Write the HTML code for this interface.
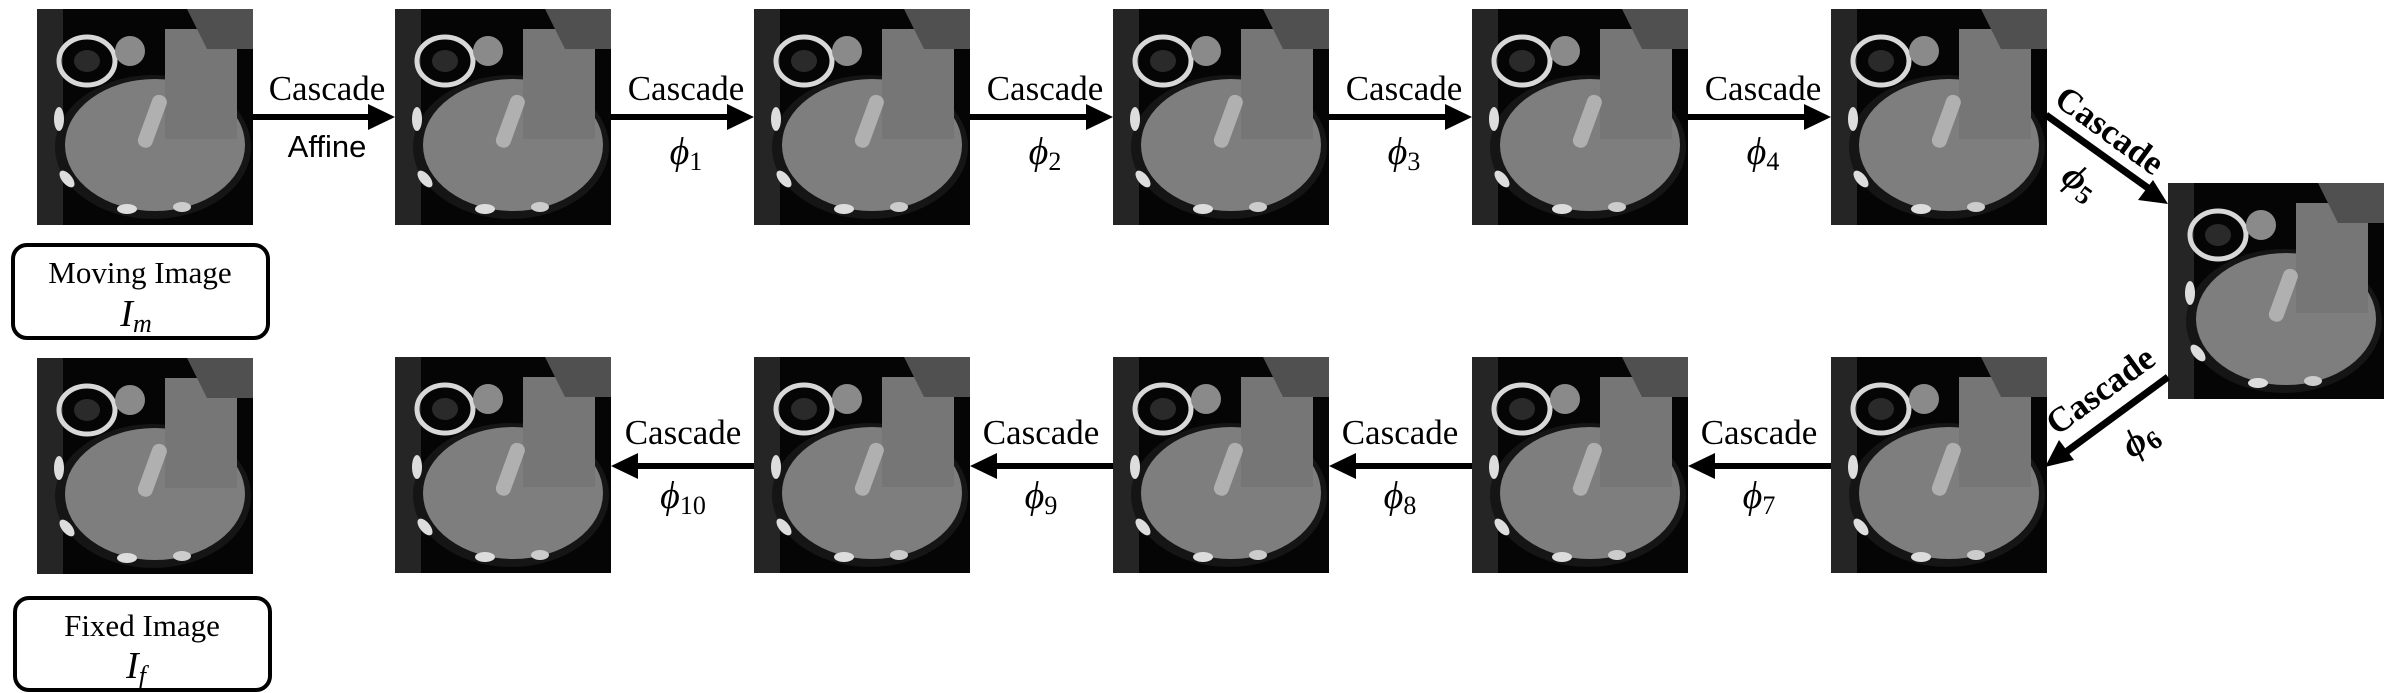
<!DOCTYPE html>
<html><head><meta charset="utf-8"><style>
html,body{margin:0;padding:0;background:#fff;}
svg{display:block;}
.cs{font-family:"Liberation Serif",serif;font-size:35px;fill:#000;}
.ph{font-family:"Liberation Serif",serif;font-style:italic;font-size:38px;fill:#000;}
.sub{font-family:"Liberation Serif",serif;font-style:normal;font-size:26px;}
.isub{font-family:"Liberation Serif",serif;font-style:italic;font-size:26px;}
.af{font-family:"Liberation Sans",sans-serif;font-size:31px;fill:#000;}
.bx{font-family:"Liberation Serif",serif;font-size:31px;fill:#000;}
</style></head><body>
<svg width="2401" height="693" viewBox="0 0 2401 693">
<defs>
<g id="ct">
<rect x="0" y="0" width="216" height="216" fill="#050505"/>
<rect x="0" y="0" width="26" height="216" fill="#252525"/>
<ellipse cx="116" cy="138" rx="98" ry="72" fill="#151515"/>
<ellipse cx="118" cy="136" rx="90" ry="66" fill="#7e7e7e"/>
<rect x="128" y="20" width="72" height="110" fill="#767676"/>
<path d="M150 0 L216 0 L216 40 L170 40 Z" fill="#505050"/>
<ellipse cx="50" cy="52" rx="28" ry="24" fill="none" stroke="#d8d8d8" stroke-width="5"/>
<ellipse cx="50" cy="52" rx="13" ry="11" fill="#2a2a2a"/>
<circle cx="93" cy="42" r="15" fill="#8a8a8a"/>
<rect x="108" y="85" width="15" height="55" rx="7" fill="#b0b0b0" transform="rotate(20 116 112)"/>
<ellipse cx="22" cy="110" rx="5" ry="12" fill="#ddd"/>
<ellipse cx="30" cy="170" rx="5" ry="10" fill="#ddd" transform="rotate(-40 30 170)"/>
<ellipse cx="90" cy="200" rx="10" ry="5" fill="#ddd"/>
<ellipse cx="145" cy="198" rx="9" ry="5" fill="#ccc"/>
</g>
</defs>

<use href="#ct" x="37" y="9"/>
<use href="#ct" x="395" y="9"/>
<use href="#ct" x="754" y="9"/>
<use href="#ct" x="1113" y="9"/>
<use href="#ct" x="1472" y="9"/>
<use href="#ct" x="1831" y="9"/>
<use href="#ct" x="2168" y="183"/>
<use href="#ct" x="1831" y="357"/>
<use href="#ct" x="1472" y="357"/>
<use href="#ct" x="1113" y="357"/>
<use href="#ct" x="754" y="357"/>
<use href="#ct" x="395" y="357"/>
<use href="#ct" x="37" y="358"/>

<g fill="#000" stroke="#000">
<line x1="253" y1="117" x2="370" y2="117" stroke-width="6"/><polygon points="368,104 395,117 368,130" stroke="none"/>
<line x1="611" y1="117" x2="729" y2="117" stroke-width="6"/><polygon points="727,104 754,117 727,130" stroke="none"/>
<line x1="970" y1="117" x2="1088" y2="117" stroke-width="6"/><polygon points="1086,104 1113,117 1086,130" stroke="none"/>
<line x1="1329" y1="117" x2="1447" y2="117" stroke-width="6"/><polygon points="1445,104 1472,117 1445,130" stroke="none"/>
<line x1="1688" y1="117" x2="1806" y2="117" stroke-width="6"/><polygon points="1804,104 1831,117 1804,130" stroke="none"/>
</g>
<g fill="#000" stroke="#000">
<line x1="1831" y1="466" x2="1713" y2="466" stroke-width="6"/><polygon points="1715,453 1688,466 1715,479" stroke="none"/>
<line x1="1472" y1="466" x2="1354" y2="466" stroke-width="6"/><polygon points="1356,453 1329,466 1356,479" stroke="none"/>
<line x1="1113" y1="466" x2="995" y2="466" stroke-width="6"/><polygon points="997,453 970,466 997,479" stroke="none"/>
<line x1="754" y1="466" x2="636" y2="466" stroke-width="6"/><polygon points="638,453 611,466 638,479" stroke="none"/>
</g>
<g>
<line x1="2046" y1="115" x2="2148" y2="188" stroke="#000" stroke-width="7"/>
<polygon points="2168,204 2138,200 2153,180" fill="#000"/>
<line x1="2168" y1="377" x2="2066" y2="452" stroke="#000" stroke-width="7"/>
<polygon points="2045,467 2059,440 2074,460" fill="#000"/>
</g>

<g>
<text class="cs" x="327" y="100" text-anchor="middle">Cascade</text>
<text class="af" x="327" y="157" text-anchor="middle">Affine</text>
<text class="cs" x="686" y="100" text-anchor="middle">Cascade</text>
<text class="ph" x="686" y="164" text-anchor="middle">ϕ<tspan class="sub" dy="6">1</tspan></text>
<text class="cs" x="1045" y="100" text-anchor="middle">Cascade</text>
<text class="ph" x="1045" y="164" text-anchor="middle">ϕ<tspan class="sub" dy="6">2</tspan></text>
<text class="cs" x="1404" y="100" text-anchor="middle">Cascade</text>
<text class="ph" x="1404" y="164" text-anchor="middle">ϕ<tspan class="sub" dy="6">3</tspan></text>
<text class="cs" x="1763" y="100" text-anchor="middle">Cascade</text>
<text class="ph" x="1763" y="164" text-anchor="middle">ϕ<tspan class="sub" dy="6">4</tspan></text>
</g>
<g>
<text class="cs" x="2110" y="142" text-anchor="middle" font-weight="bold" transform="rotate(36 2110 130)">Cascade</text>
<text class="ph" x="2080" y="193" text-anchor="middle" font-weight="bold" transform="rotate(36 2080 182)">ϕ<tspan class="sub" dy="6">5</tspan></text>
<text class="cs" x="2100" y="402" text-anchor="middle" font-weight="bold" transform="rotate(-36 2100 390)">Cascade</text>
<text class="ph" x="2140" y="451" text-anchor="middle" font-weight="bold" transform="rotate(-36 2140 440)">ϕ<tspan class="sub" dy="6">6</tspan></text>
</g>
<g>
<text class="cs" x="1759" y="444" text-anchor="middle">Cascade</text>
<text class="ph" x="1759" y="508" text-anchor="middle">ϕ<tspan class="sub" dy="6">7</tspan></text>
<text class="cs" x="1400" y="444" text-anchor="middle">Cascade</text>
<text class="ph" x="1400" y="508" text-anchor="middle">ϕ<tspan class="sub" dy="6">8</tspan></text>
<text class="cs" x="1041" y="444" text-anchor="middle">Cascade</text>
<text class="ph" x="1041" y="508" text-anchor="middle">ϕ<tspan class="sub" dy="6">9</tspan></text>
<text class="cs" x="683" y="444" text-anchor="middle">Cascade</text>
<text class="ph" x="683" y="508" text-anchor="middle">ϕ<tspan class="sub" dy="6">10</tspan></text>
</g>

<g>
<rect x="13" y="245" width="255" height="93" rx="14" fill="#fff" stroke="#000" stroke-width="4"/>
<text class="bx" x="140" y="283" text-anchor="middle">Moving Image</text>
<text class="ph" x="136" y="326" text-anchor="middle">I<tspan class="isub" dy="6">m</tspan></text>
</g>
<g>
<rect x="15" y="598" width="255" height="92" rx="14" fill="#fff" stroke="#000" stroke-width="4"/>
<text class="bx" x="142" y="636" text-anchor="middle">Fixed Image</text>
<text class="ph" x="136" y="678" text-anchor="middle">I<tspan class="isub" dy="6">f</tspan></text>
</g>
</svg>
</body></html>
